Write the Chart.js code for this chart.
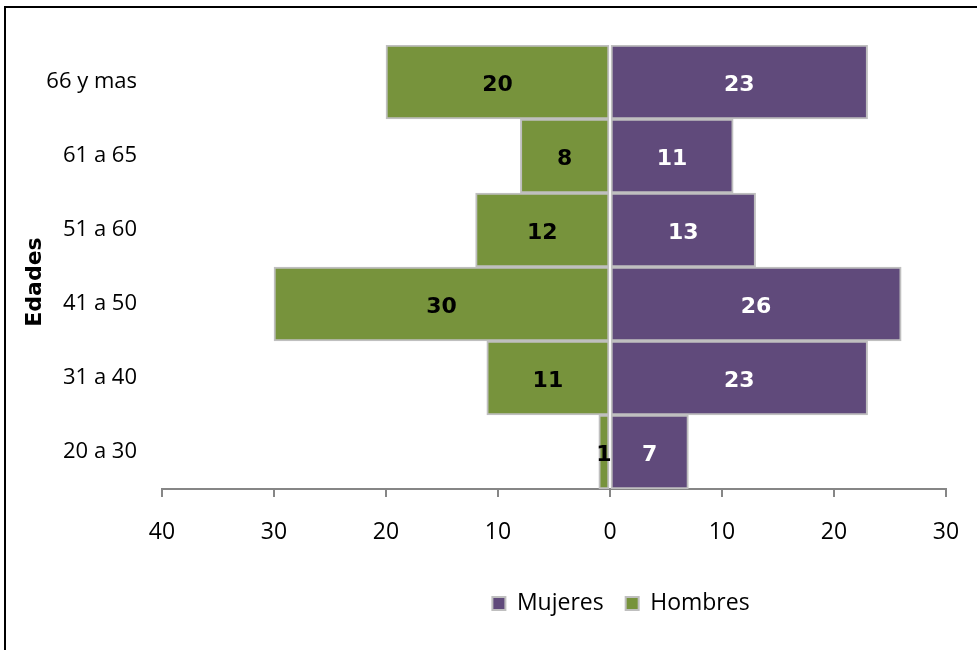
<!DOCTYPE html>
<html>
<head>
<meta charset="utf-8">
<title>Edades por sexo</title>
<script src="https://cdn.jsdelivr.net/npm/chart.js@4.4.1/dist/chart.umd.min.js"></script>
<style>
  body { margin: 0; background: #fff; }
  #wrap { position: relative; width: 977px; height: 650px; overflow: hidden; }
  #frame {
    position: absolute; left: 4px; top: 6px; width: 1000px; height: 700px;
    border-top: 2px solid #000; border-left: 2px solid #000;
  }
  #myChart { position: absolute; left: 0; top: 0; }
</style>
</head>
<body>
<div id="wrap">
  <div id="frame"></div>
  <canvas id="myChart" width="977" height="650"></canvas>
</div>
<script>
// grupos de edad, de abajo hacia arriba
var edades = ["20 a 30", "31 a 40", "41 a 50", "51 a 60", "61 a 65", "66 y mas"];
var mujeres = [7, 23, 26, 13, 11, 23];
var hombres = [1, 11, 30, 12, 8, 20];
var xTicks = [-40, -30, -20, -10, 0, 10, 20, 30];

// etiquetas con el valor dentro de cada barra
var valueLabels = {
  id: "valueLabels",
  afterDatasetsDraw: function(chart) {
    var ctx = chart.ctx;
    ctx.save();
    ctx.font = "bold 22px 'DejaVu Sans'";
    ctx.textAlign = "center";
    ctx.textBaseline = "middle";
    chart.data.datasets.forEach(function(ds, i) {
      var meta = chart.getDatasetMeta(i);
      meta.data.forEach(function(bar, j) {
        ctx.fillStyle = ds.labelColor;
        ctx.fillText(Math.abs(ds.data[j]), (bar.x + bar.base) / 2, bar.y + 3);
      });
    });
    ctx.restore();
  }
};

// titulo vertical del eje de edades
var edadesTitle = {
  id: "edadesTitle",
  afterDraw: function(chart) {
    var ctx = chart.ctx;
    ctx.save();
    ctx.translate(35, 282);
    ctx.rotate(-Math.PI / 2);
    ctx.font = "bold 22px 'DejaVu Sans'";
    ctx.fillStyle = "#000";
    ctx.textAlign = "center";
    ctx.textBaseline = "middle";
    ctx.fillText("Edades", 0, 0);
    ctx.restore();
  }
};

// la leyenda va centrada bajo la parte derecha del grafico
var legendShift = {
  id: "legendShift",
  afterLayout: function(chart) {
    chart.legend.left += 139;
    chart.legend.right += 139;
  }
};

new Chart("myChart", {
  type: "bar",
  data: {
    labels: edades,
    datasets: [{
      label: "Mujeres",
      data: mujeres,
      backgroundColor: "#604a7b",
      borderColor: "#bfbfbf",
      borderWidth: 2,
      borderSkipped: false,
      labelColor: "#ffffff"
    }, {
      label: "Hombres",
      data: hombres.map(function(v) { return -v; }),
      backgroundColor: "#77933c",
      borderColor: "#bfbfbf",
      borderWidth: 2,
      borderSkipped: false,
      labelColor: "#000000"
    }]
  },
  options: {
    indexAxis: "y",
    responsive: false,
    animation: false,
    barPercentage: 1,
    categoryPercentage: 1,
    layout: { padding: { top: 45, left: 18, right: 31, bottom: 25 } },
    plugins: {
      legend: {
        position: "bottom",
        labels: {
          boxWidth: 13,
          boxHeight: 13,
          padding: 22,
          color: "#000",
          font: { family: "'Open Sans'", size: 23 }
        }
      },
      tooltip: { enabled: false }
    },
    scales: {
      x: {
        stacked: true,
        min: -40,
        max: 30,
        afterBuildTicks: function(scale) {
          scale.ticks = xTicks.map(function(v) { return { value: v }; });
        },
        afterFit: function(scale) {
          scale.height = 81;
          scale.paddingLeft = 0;
          scale.paddingRight = 0;
        },
        grid: { drawOnChartArea: false, tickLength: 8, color: "#868686", lineWidth: 2 },
        border: { color: "#868686", width: 2 },
        ticks: {
          padding: 22,
          color: "#000",
          font: { family: "'Open Sans'", size: 23 },
          maxRotation: 0,
          callback: function(v) { return Math.abs(v); }
        }
      },
      y: {
        stacked: true,
        reverse: true,
        afterFit: function(scale) { scale.width = 144; },
        grid: { display: false, drawTicks: false },
        border: { display: false },
        ticks: {
          padding: 25,
          color: "#000",
          font: { family: "'Open Sans'", size: 22 }
        }
      }
    }
  },
  plugins: [valueLabels, edadesTitle, legendShift]
});
</script>
</body>
</html>
